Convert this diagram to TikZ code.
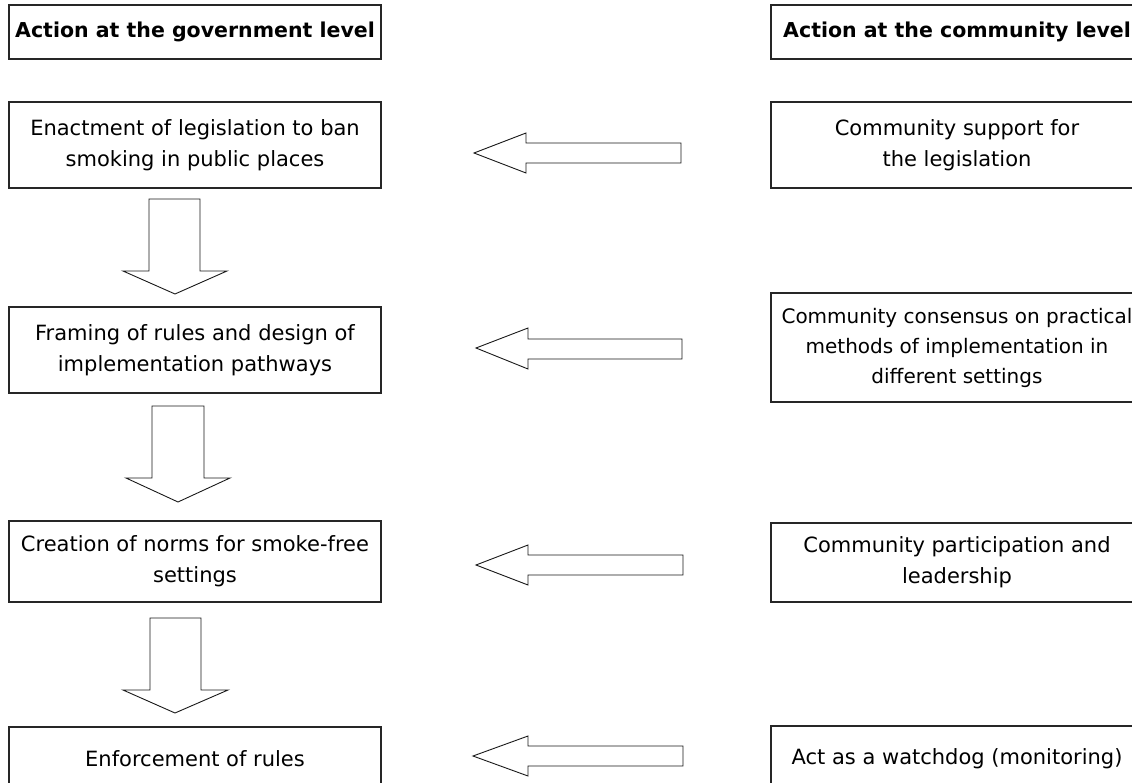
\documentclass[tikz,border=0pt]{standalone}
\usepackage{fontspec}
\setmainfont{DejaVu Sans}

\begin{document}
\begin{tikzpicture}[x=1pt,y=-1pt,
  box/.style={draw=black!85, line width=1.3pt, align=center, inner sep=0pt,
    minimum width=372pt, font=\fontsize{21}{31}\selectfont},
  head/.style={box, minimum height=54pt, font=\fontsize{20.5}{29}\selectfont\bfseries},
  blockarrow/.style={draw=black!90, line width=0.9pt, fill=white, line join=miter}]

  \useasboundingbox (0,0) rectangle (1132,783);

  % column headings
  \node[head] (govhead) at (195,32) {Action at the government level};
  \node[head] (comhead) at (957,32) {Action at the community level};

  % government side
  \node[box, minimum height=86pt] (gov1) at (195,145)
    {Enactment of legislation to ban\\smoking in public places};
  \node[box, minimum height=86pt] (gov2) at (195,350)
    {Framing of rules and design of\\implementation pathways};
  \node[box, minimum height=81pt] (gov3) at (195,561.5)
    {Creation of norms for smoke-free\\settings};
  \node[box, minimum height=64pt] (gov4) at (195,759)
    {Enforcement of rules};

  % community side
  \node[box, minimum height=86pt] (com1) at (957,145)
    {Community support for\\the legislation};
  \node[box, minimum height=109pt, font=\fontsize{20}{30}\selectfont] (com2) at (957,347.5)
    {Community consensus on practical\\methods of implementation in\\different settings};
  \node[box, minimum height=79pt] (com3) at (957,562.5)
    {Community participation and\\leadership};
  \node[box, minimum height=66pt] (com4) at (957,759)
    {Act as a watchdog (monitoring)};

  % downward arrows
  \draw[blockarrow] (149,199) -- (200,199) -- (200,271) -- (227,271)
    -- (175,294) -- (123,271) -- (149,271) -- cycle;
  \draw[blockarrow] (152,406) -- (204,406) -- (204,478) -- (230,478)
    -- (178,502) -- (126,478) -- (152,478) -- cycle;
  \draw[blockarrow] (150,618) -- (201,618) -- (201,690) -- (228,690)
    -- (175,713) -- (123,690) -- (150,690) -- cycle;

  % arrows from the community side
  \draw[blockarrow] (474,153) -- (526,133) -- (526,143) -- (681,143)
    -- (681,163) -- (526,163) -- (526,173) -- cycle;
  \draw[blockarrow] (476,348) -- (528,328) -- (528,339) -- (682,339)
    -- (682,359) -- (528,359) -- (528,369) -- cycle;
  \draw[blockarrow] (476,565) -- (528,545) -- (528,555) -- (683,555)
    -- (683,575) -- (528,575) -- (528,585) -- cycle;
  \draw[blockarrow] (473,756) -- (528,736) -- (528,746) -- (683,746)
    -- (683,766) -- (528,766) -- (528,776) -- cycle;
\end{tikzpicture}
\end{document}
